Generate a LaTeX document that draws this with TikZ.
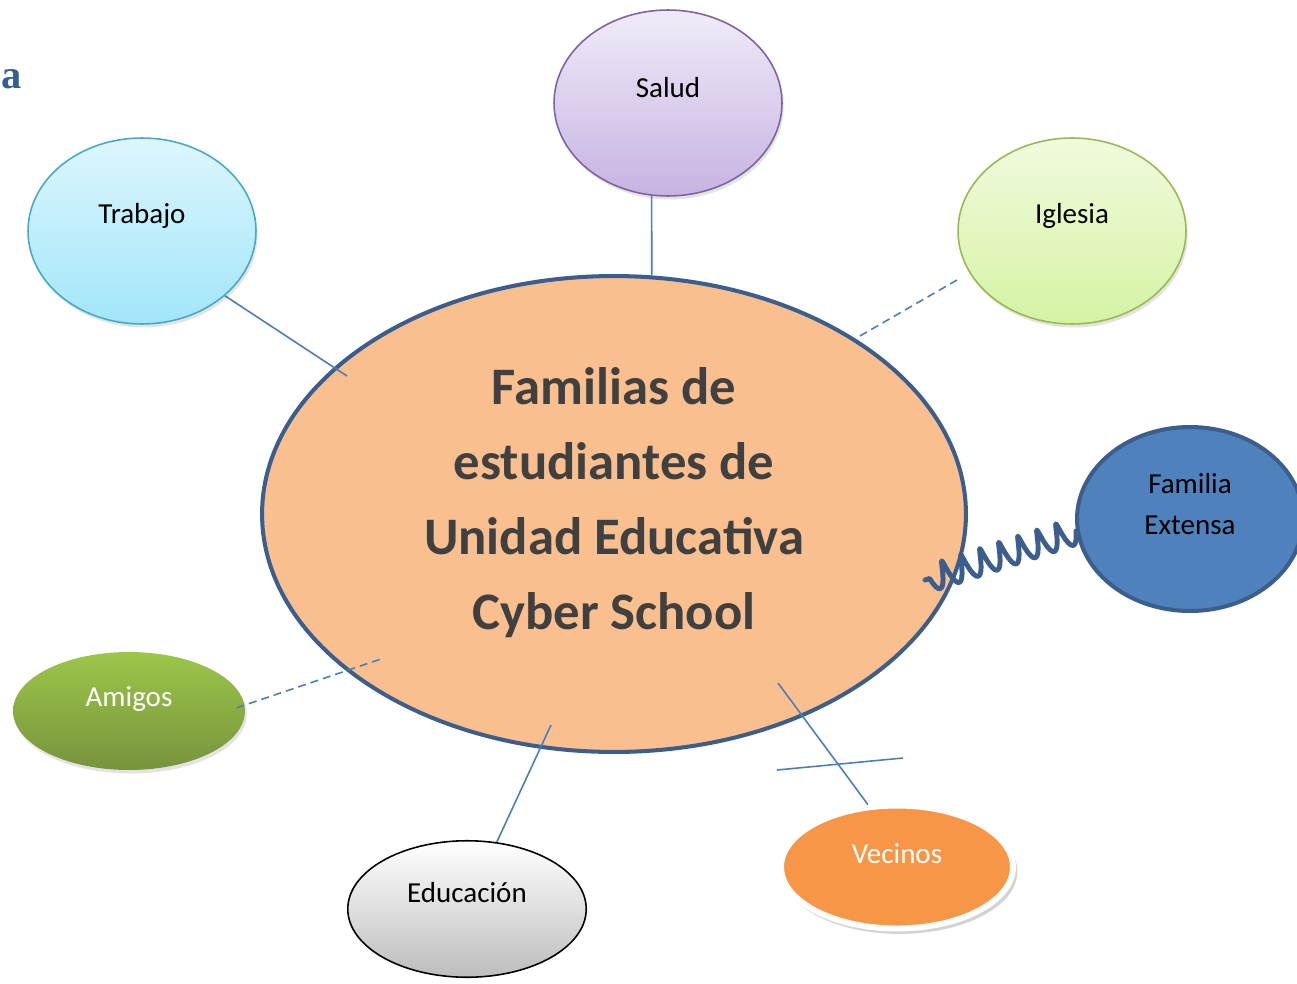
\documentclass[tikz,border=0pt]{standalone}
\usepackage{fontspec}
\setmainfont{Carlito}
\newfontfamily\headfont{Liberation Serif}
\usetikzlibrary{shapes.geometric}
\usetikzlibrary{shadows}
\usetikzlibrary{decorations.pathmorphing}

\definecolor{famfill}{HTML}{F9BF8F}
\definecolor{famline}{HTML}{3B5E8C}
\definecolor{titlegray}{HTML}{404040}
\definecolor{connblue}{HTML}{4A7EBB}
\definecolor{headblue}{HTML}{365F91}
\definecolor{saludtop}{HTML}{F0EBF8}
\definecolor{saludbot}{HTML}{C6B3E2}
\definecolor{saludline}{HTML}{7F63A1}
\definecolor{trabtop}{HTML}{DDF6FD}
\definecolor{trabbot}{HTML}{A2E6FA}
\definecolor{trabline}{HTML}{46AAC5}
\definecolor{igltop}{HTML}{F1FADE}
\definecolor{iglbot}{HTML}{D5F3A3}
\definecolor{iglline}{HTML}{98B954}
\definecolor{fextfill}{HTML}{4F81BD}
\definecolor{amigtop}{HTML}{9DC64A}
\definecolor{amigbot}{HTML}{77933C}
\definecolor{vecfill}{HTML}{F79646}
\definecolor{edubot}{HTML}{BDBDBD}

\begin{document}
\begin{tikzpicture}[x=0.02cm, y=-0.02cm,
    bubble/.style={ellipse, minimum width=4.56cm, minimum height=3.72cm, line width=0.9pt},
    lift/.style={drop shadow={opacity=0.22, shadow xshift=1pt, shadow yshift=-2pt}},
    word/.style={font=\fontsize{16.5}{23.3}\selectfont, align=center},
    title/.style={font=\bfseries\fontsize{30}{42.7}\selectfont, text=titlegray, align=center},
    conn/.style={draw=connblue, line width=0.9pt},
    dconn/.style={conn, dash pattern=on 0.16cm off 0.1cm},
    coilc/.style={draw=famline, line width=2.8pt, line cap=round, line join=round, decorate,
      decoration={coil, amplitude=0.26cm, segment length=0.4cm, aspect=0.15}}]
  \useasboundingbox (0,0) rectangle (1297,983);

  \node[anchor=base east, inner sep=0pt, text=headblue, font=\headfont\bfseries\fontsize{23}{27}\selectfont] (heading) at (22,89) {a};

  \node[ellipse, fill=famfill, draw=famline, line width=2.3pt, minimum width=14.08cm, minimum height=9.52cm,
    label={[title, yshift=0.23cm]center:Familias de\\estudiantes de\\Unidad Educativa\\Cyber School}] (fam) at (614,514) {};

  \node[bubble, top color=saludtop, bottom color=saludbot, draw=saludline, lift,
    label={[word, yshift=0.3cm]center:Salud}] (salud) at (668,103) {};
  \node[bubble, top color=trabtop, bottom color=trabbot, draw=trabline, lift,
    label={[word, yshift=0.3cm]center:Trabajo}] (trabajo) at (142,231) {};
  \node[bubble, top color=igltop, bottom color=iglbot, draw=iglline, lift,
    label={[word, yshift=0.3cm]center:Iglesia}] (iglesia) at (1072,231) {};
  \node[bubble, fill=fextfill, draw=famline, line width=2.3pt, minimum width=4.52cm, minimum height=3.68cm,
    label={[word, yshift=0.29cm]center:Familia\\Extensa}] (fext) at (1190,519) {};
  \node[bubble, top color=amigtop, bottom color=amigbot, minimum width=4.64cm, minimum height=2.36cm, lift,
    label={[word, text=white, yshift=0.24cm]center:Amigos}] (amigos) at (129,711) {};
  \node[bubble, top color=white, bottom color=edubot, draw=black, minimum width=4.77cm, minimum height=2.73cm,
    label={[word, yshift=0.32cm]center:Educación}] (educ) at (467,909) {};
  \node[bubble, fill=vecfill, draw=white, line width=3.4pt, minimum width=4.64cm, minimum height=2.46cm,
    drop shadow={opacity=0.35, shadow scale=1.015, shadow xshift=1.5pt, shadow yshift=-2.5pt},
    label={[word, text=white, yshift=0.26cm]center:Vecinos}] (vecinos) at (897,867) {};

  \coordinate (ctrab) at (347,376);
  \coordinate (cigl) at (957,280);
  \coordinate (cfext) at (925,580);
  \coordinate (camig) at (381,659);
  \coordinate (ceduc) at (551,725);
  \coordinate (cvec) at (778,683);
  \coordinate (xa) at (777,770);
  \coordinate (xb) at (903,758);

  \draw[conn] (salud.-100) -- (fam.81);
  \draw[conn] (trabajo.-38) -- (ctrab);
  \draw[dconn] (cigl) -- (fam.36);
  \draw[coilc] (fext.186) -- (cfext);
  \draw[dconn, shorten <=-0.18cm] (amigos.3) -- (camig);
  \draw[conn] (educ.66) -- (ceduc);
  \draw[conn] (vecinos.115) -- (cvec);
  \draw[conn] (xa) -- (xb);
\end{tikzpicture}
\end{document}
